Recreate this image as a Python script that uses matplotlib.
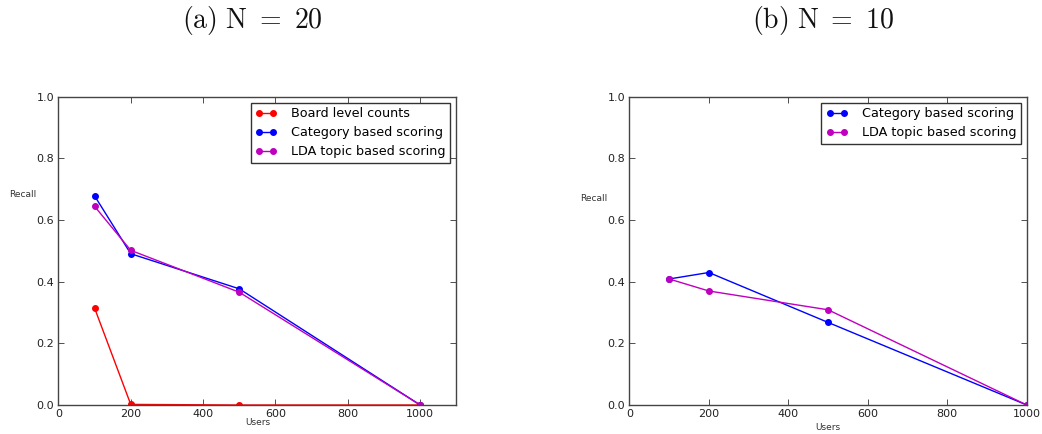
import matplotlib
matplotlib.use("Agg")
import matplotlib.pyplot as plt

users = [100, 200, 500, 1000]

# (a) N = 20
a_board = [0.315, 0.002, 0.0, 0.0]
a_category = [0.679, 0.491, 0.377, 0.0]
a_lda = [0.645, 0.502, 0.366, 0.0]

# (b) N = 10
b_category = [0.409, 0.430, 0.268, 0.0]
b_lda = [0.409, 0.370, 0.309, 0.0]

titles = ["(a) N = 20", "(b) N = 10"]
labels = ["Board level counts", "Category based scoring", "LDA topic based scoring"]

plt.rcParams['mathtext.fontset'] = 'cm'

fig = plt.figure(figsize=(10.42, 4.34), dpi=100)
ax1 = fig.add_axes([0.056, 0.0668, 0.382, 0.710])
ax2 = fig.add_axes([0.604, 0.0668, 0.3814, 0.710])

ms = 4.0
lw = 1.0
ax1.plot(users, a_board, color='r', marker='o', ms=ms, lw=lw, label=labels[0], markeredgecolor='r')
ax1.plot(users, a_category, color='b', marker='o', ms=ms, lw=lw, label=labels[1], markeredgecolor='b')
ax1.plot(users, a_lda, color='m', marker='o', ms=ms, lw=lw, label=labels[2], markeredgecolor='m')
ax1.set_xlim(0, 1100)

ax2.plot(users, b_category, color='b', marker='o', ms=ms, lw=lw, label=labels[1], markeredgecolor='b')
ax2.plot(users, b_lda, color='m', marker='o', ms=ms, lw=lw, label=labels[2], markeredgecolor='m')
ax2.set_xlim(0, 1000)

title_x = [0.242, 0.790]
for ax, title, rx, ry, tx, xlp in [(ax1, titles[0], -0.09, 0.67, title_x[0], -1.0),
                                   (ax2, titles[1], -0.09, 0.655, title_x[1], 2.5)]:
    ax.set_ylim(0, 1.0)
    ax.set_xticks([0, 200, 400, 600, 800, 1000])
    ax.set_yticks([0.0, 0.2, 0.4, 0.6, 0.8, 1.0])
    ax.tick_params(direction='in', top=True, right=True, labelsize=8, length=4, width=0.6, colors='#333333', labelcolor='#222222', pad=3)
    for s in ax.spines.values():
        s.set_color('#444444')
        s.set_linewidth(1.0)
    ax.set_xlabel("Users", fontsize=6.5, labelpad=xlp, color='#333333')
    ax.set_ylabel("Recall", fontsize=6.5, rotation=0, color='#333333')
    ax.yaxis.set_label_coords(rx, ry)
    leg = ax.legend(loc='upper right', fontsize=9.2, numpoints=2, fancybox=False, framealpha=1,
                    edgecolor='#333333', handlelength=1.7, borderpad=0.36, labelspacing=0.46,
                    handletextpad=1.1, borderaxespad=0.47, markerscale=1.0)
    leg.get_frame().set_linewidth(1.0)
    fig.text(tx, 0.952, r'$\mathrm{' + title.replace(' ', r'\ ') + '}$',
             ha='center', va='center', fontsize=20, color='#111111')

fig.savefig("out.png", dpi=100, facecolor='white')
